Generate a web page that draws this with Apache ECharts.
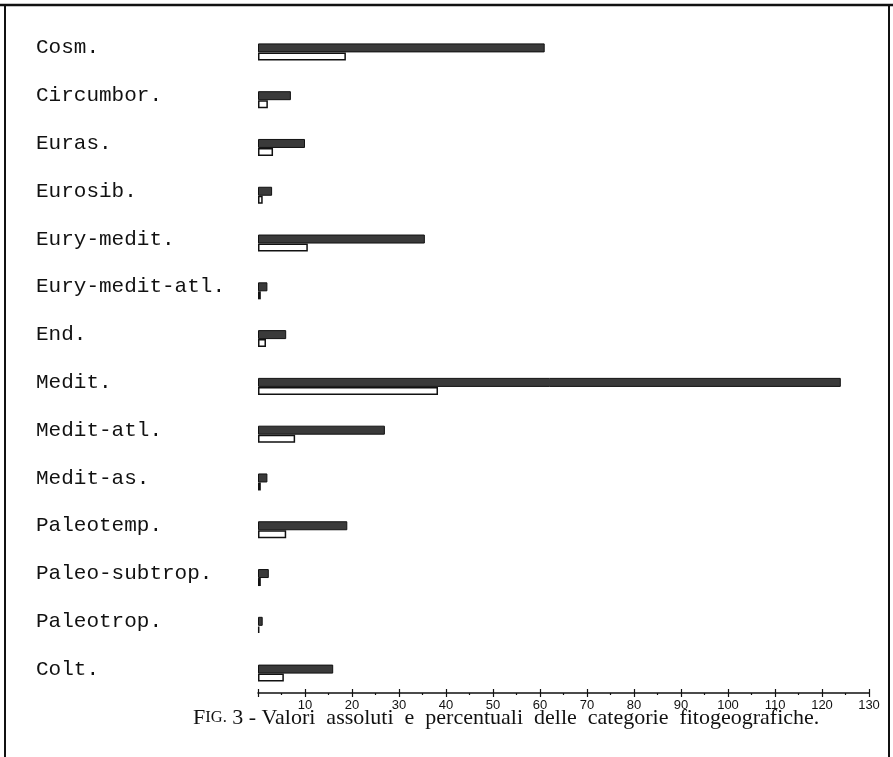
<!DOCTYPE html>
<html>
<head>
<meta charset="utf-8">
<script src="https://cdn.jsdelivr.net/npm/echarts@6/dist/echarts.min.js"></script>
<style>
html,body{margin:0;padding:0;background:#fff;}
#chart{width:893px;height:757px;}
</style>
</head>
<body>
<div id="chart"></div>
<script>
const categories = ['Cosm.','Circumbor.','Euras.','Eurosib.','Eury-medit.','Eury-medit-atl.','End.','Medit.','Medit-atl.','Medit-as.','Paleotemp.','Paleo-subtrop.','Paleotrop.','Colt.'];
const absoluteValues = [61, 7, 10, 3, 35.5, 2, 6, 124, 27, 2, 19, 2.3, 1, 16];
const percentValues = [18.7, 2.1, 3.2, 1, 10.6, 0.6, 1.7, 38.3, 7.9, 0.6, 6, 0.6, 0.3, 5.5];
const tickValues = [10,20,30,40,50,60,70,80,90,100,110,120,130];

const chart = echarts.init(document.getElementById('chart'), null, {renderer:'canvas'});
const axisCommon = {
  type: 'value', min: 0, max: 130, interval: 10, position: 'bottom',
  splitLine: {show:false}
};
chart.setOption({
  animation: false,
  backgroundColor: '#fff',
  title: {
    left: 188, top: 702,
    text: '{a|F}{b|IG.}{a| 3 - Valori  assoluti  e  percentuali  delle  categorie  fitogeografiche.}',
    textStyle: {
      fontWeight: 'normal',
      rich: {
        a: {fontFamily: 'Liberation Serif', fontSize: 22, fontWeight: 'normal', color: '#111'},
        b: {fontFamily: 'Liberation Serif', fontSize: 16.5, fontWeight: 'normal', color: '#111'}
      }
    }
  },
  graphic: [
    {type:'line', shape:{x1:0, y1:5, x2:893, y2:5}, style:{stroke:'#111', lineWidth:2.5}},
    {type:'line', shape:{x1:5, y1:6, x2:5, y2:757}, style:{stroke:'#111', lineWidth:2}},
    {type:'line', shape:{x1:889, y1:6, x2:889, y2:757}, style:{stroke:'#111', lineWidth:2}}
  ],
  grid: {left: 258, right: 24, top: 28, bottom: 60, containLabel: false},
  xAxis: [
    Object.assign({}, axisCommon, {
      offset: -4,
      axisLine: {show:true, lineStyle:{color:'#111', width:1.5}},
      axisTick: {show:true, inside:false, length:4, lineStyle:{color:'#111', width:1.2}},
      minorTick: {show:true, splitNumber:2, length:2, lineStyle:{color:'#111', width:1.2}},
      axisLabel: {
        show: true, margin: 6, color:'#111', fontFamily:'Liberation Sans', fontSize: 13,
        formatter: v => (tickValues.indexOf(v) >= 0 ? String(v) : '')
      }
    }),
    Object.assign({}, axisCommon, {
      offset: -4,
      axisLine: {show:false},
      axisTick: {show:true, inside:true, length:4, lineStyle:{color:'#111', width:1.2}},
      axisLabel: {show:false}
    })
  ],
  yAxis: {
    type: 'category', data: categories, inverse: true,
    axisLine: {show:false}, axisTick: {show:false},
    axisLabel: {
      align: 'left', margin: 222, color: '#111',
      fontFamily: 'Liberation Mono', fontSize: 21,
      verticalAlign: 'bottom', lineHeight: 8
    }
  },
  series: [
    {
      name: 'Valori assoluti', type: 'bar', data: absoluteValues,
      barWidth: 9, barGap: '0%',
      itemStyle: {color:'#3a3a3a', borderColor:'#111', borderWidth:1}
    },
    {
      name: 'Valori percentuali', type: 'bar', data: percentValues,
      barWidth: 8,
      itemStyle: {color:'#fff', borderColor:'#111', borderWidth:1.5}
    }
  ]
});
</script>
</body>
</html>
